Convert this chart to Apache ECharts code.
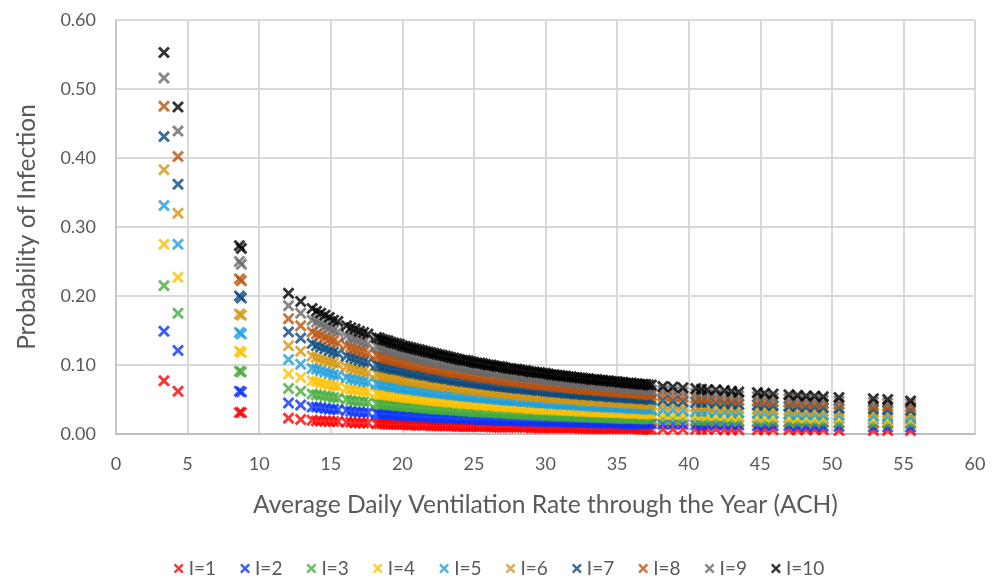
<!DOCTYPE html>
<html>
<head>
<meta charset="utf-8">
<script src="https://cdn.jsdelivr.net/npm/echarts@6/dist/echarts.min.js"></script>
<style>
  html, body { margin: 0; padding: 0; background: #ffffff; }
  #chart { width: 998px; height: 584px; }
</style>
</head>
<body>
<div id="chart"></div>
<script>
// Average daily ventilation rate (ACH) for each sample point.
// The last block holds the in-between samples of the dense 18-37 ACH range.
const ach = [
  3.35, 4.33, 8.62, 8.76,
  12.05, 12.9, 13.7, 14.0, 14.3, 14.6, 14.9, 15.2, 15.5, 16.1, 16.4, 16.7, 17.0, 17.3, 17.6,
  18.2, 18.6, 19.0, 19.4, 19.8, 20.2, 20.6, 21.0, 21.4, 21.8, 22.2, 22.6, 23.0, 23.4, 23.8,
  24.2, 24.6, 25.0, 25.4, 25.8, 26.2, 26.6, 27.0, 27.4, 27.8, 28.2, 28.6, 29.0, 29.4, 29.8,
  30.2, 30.6, 31.0, 31.4, 31.8, 32.2, 32.6, 33.0, 33.4, 33.8, 34.2, 34.6, 35.0, 35.4, 35.8,
  36.2, 36.6, 37.0, 37.4,
  38.2, 38.9, 39.6, 40.5, 40.9, 41.3, 41.9, 42.5, 43.0, 43.5, 44.8, 45.3, 45.9,
  47.0, 47.6, 48.2, 48.8, 49.4, 50.5, 52.9, 53.9, 55.5,
  18.4, 18.8, 19.2, 19.6, 20.0, 20.4, 20.8, 21.2, 21.6, 22.0, 22.4, 22.8, 23.2, 23.6, 24.0, 24.4,
  24.8, 25.2, 25.6, 26.0, 26.4, 26.8, 27.2, 27.6, 28.0, 28.4, 28.8, 29.2, 29.6, 30.0, 30.4, 30.8,
  31.2, 31.6, 32.0, 32.4, 32.8, 33.2, 33.6, 34.0, 34.4, 34.8, 35.2, 35.6, 36.0, 36.4, 36.8, 37.2
];

// Probability of infection, one list per number of infectors (I)
const probI1 = [
  0.077, 0.062, 0.031, 0.031,
  0.023, 0.021, 0.020, 0.019, 0.019, 0.019, 0.018, 0.018, 0.018, 0.017, 0.017, 0.016, 0.016, 0.016, 0.016,
  0.015, 0.015, 0.014, 0.014, 0.014, 0.014, 0.013, 0.013, 0.013, 0.013, 0.012, 0.012, 0.012, 0.012, 0.011,
  0.011, 0.011, 0.011, 0.011, 0.011, 0.010, 0.010, 0.010, 0.010, 0.010, 0.010, 0.010, 0.009, 0.009, 0.009,
  0.009, 0.009, 0.009, 0.009, 0.009, 0.009, 0.008, 0.008, 0.008, 0.008, 0.008, 0.008, 0.008, 0.008, 0.008,
  0.008, 0.007, 0.007, 0.007,
  0.007, 0.007, 0.007, 0.007, 0.007, 0.007, 0.007, 0.006, 0.006, 0.006, 0.006, 0.006, 0.006,
  0.006, 0.006, 0.006, 0.006, 0.006, 0.005, 0.005, 0.005, 0.005,
  0.015, 0.015, 0.014, 0.014, 0.014, 0.013, 0.013, 0.013, 0.013, 0.012, 0.012, 0.012, 0.012, 0.012, 0.011, 0.011,
  0.011, 0.011, 0.011, 0.011, 0.010, 0.010, 0.010, 0.010, 0.010, 0.010, 0.010, 0.009, 0.009, 0.009, 0.009, 0.009,
  0.009, 0.009, 0.009, 0.008, 0.008, 0.008, 0.008, 0.008, 0.008, 0.008, 0.008, 0.008, 0.008, 0.008, 0.007, 0.007
];
const probI2 = [
  0.149, 0.121, 0.062, 0.061,
  0.045, 0.042, 0.039, 0.039, 0.038, 0.037, 0.036, 0.036, 0.035, 0.034, 0.033, 0.032, 0.032, 0.031, 0.031,
  0.030, 0.029, 0.029, 0.028, 0.027, 0.027, 0.026, 0.026, 0.025, 0.025, 0.024, 0.024, 0.024, 0.023, 0.023,
  0.022, 0.022, 0.022, 0.021, 0.021, 0.021, 0.020, 0.020, 0.020, 0.020, 0.019, 0.019, 0.019, 0.019, 0.018,
  0.018, 0.018, 0.018, 0.017, 0.017, 0.017, 0.017, 0.017, 0.016, 0.016, 0.016, 0.016, 0.016, 0.015, 0.015,
  0.015, 0.015, 0.015, 0.015,
  0.014, 0.014, 0.014, 0.013, 0.013, 0.013, 0.013, 0.013, 0.013, 0.013, 0.012, 0.012, 0.012,
  0.012, 0.011, 0.011, 0.011, 0.011, 0.011, 0.010, 0.010, 0.010,
  0.029, 0.029, 0.028, 0.028, 0.027, 0.027, 0.026, 0.026, 0.025, 0.025, 0.024, 0.024, 0.023, 0.023, 0.023, 0.022,
  0.022, 0.022, 0.021, 0.021, 0.021, 0.020, 0.020, 0.020, 0.019, 0.019, 0.019, 0.019, 0.018, 0.018, 0.018, 0.018,
  0.017, 0.017, 0.017, 0.017, 0.017, 0.016, 0.016, 0.016, 0.016, 0.016, 0.016, 0.015, 0.015, 0.015, 0.015, 0.015
];
const probI3 = [
  0.215, 0.175, 0.091, 0.090,
  0.066, 0.062, 0.058, 0.057, 0.056, 0.055, 0.054, 0.053, 0.052, 0.050, 0.049, 0.048, 0.047, 0.047, 0.046,
  0.044, 0.043, 0.042, 0.042, 0.041, 0.040, 0.039, 0.039, 0.038, 0.037, 0.036, 0.036, 0.035, 0.035, 0.034,
  0.033, 0.033, 0.032, 0.032, 0.031, 0.031, 0.031, 0.030, 0.030, 0.029, 0.029, 0.028, 0.028, 0.028, 0.027,
  0.027, 0.027, 0.026, 0.026, 0.026, 0.025, 0.025, 0.025, 0.024, 0.024, 0.024, 0.024, 0.023, 0.023, 0.023,
  0.023, 0.022, 0.022, 0.022,
  0.021, 0.021, 0.021, 0.020, 0.020, 0.020, 0.019, 0.019, 0.019, 0.019, 0.018, 0.018, 0.018,
  0.017, 0.017, 0.017, 0.017, 0.017, 0.016, 0.015, 0.015, 0.015,
  0.044, 0.043, 0.042, 0.041, 0.040, 0.040, 0.039, 0.038, 0.037, 0.037, 0.036, 0.036, 0.035, 0.034, 0.034, 0.033,
  0.033, 0.032, 0.032, 0.031, 0.031, 0.030, 0.030, 0.029, 0.029, 0.029, 0.028, 0.028, 0.027, 0.027, 0.027, 0.026,
  0.026, 0.026, 0.025, 0.025, 0.025, 0.025, 0.024, 0.024, 0.024, 0.023, 0.023, 0.023, 0.023, 0.022, 0.022, 0.022
];
const probI4 = [
  0.275, 0.227, 0.120, 0.118,
  0.087, 0.082, 0.077, 0.076, 0.074, 0.073, 0.071, 0.070, 0.069, 0.066, 0.065, 0.064, 0.063, 0.062, 0.061,
  0.059, 0.057, 0.056, 0.055, 0.054, 0.053, 0.052, 0.051, 0.050, 0.049, 0.048, 0.047, 0.047, 0.046, 0.045,
  0.044, 0.044, 0.043, 0.042, 0.042, 0.041, 0.041, 0.040, 0.039, 0.039, 0.038, 0.038, 0.037, 0.037, 0.036,
  0.036, 0.035, 0.035, 0.034, 0.034, 0.034, 0.033, 0.033, 0.032, 0.032, 0.032, 0.031, 0.031, 0.031, 0.030,
  0.030, 0.030, 0.029, 0.029,
  0.028, 0.028, 0.027, 0.027, 0.027, 0.026, 0.026, 0.026, 0.025, 0.025, 0.024, 0.024, 0.024,
  0.023, 0.023, 0.023, 0.022, 0.022, 0.022, 0.021, 0.020, 0.020,
  0.058, 0.057, 0.056, 0.055, 0.054, 0.052, 0.052, 0.051, 0.050, 0.049, 0.048, 0.047, 0.046, 0.046, 0.045, 0.044,
  0.043, 0.043, 0.042, 0.041, 0.041, 0.040, 0.040, 0.039, 0.039, 0.038, 0.037, 0.037, 0.036, 0.036, 0.036, 0.035,
  0.035, 0.034, 0.034, 0.033, 0.033, 0.033, 0.032, 0.032, 0.031, 0.031, 0.031, 0.030, 0.030, 0.030, 0.029, 0.029
];
const probI5 = [
  0.331, 0.275, 0.147, 0.145,
  0.108, 0.101, 0.095, 0.094, 0.092, 0.090, 0.088, 0.086, 0.085, 0.082, 0.080, 0.079, 0.078, 0.076, 0.075,
  0.073, 0.071, 0.070, 0.068, 0.067, 0.066, 0.065, 0.063, 0.062, 0.061, 0.060, 0.059, 0.058, 0.057, 0.056,
  0.055, 0.054, 0.054, 0.053, 0.052, 0.051, 0.050, 0.050, 0.049, 0.048, 0.048, 0.047, 0.046, 0.046, 0.045,
  0.045, 0.044, 0.043, 0.043, 0.042, 0.042, 0.041, 0.041, 0.040, 0.040, 0.039, 0.039, 0.039, 0.038, 0.038,
  0.037, 0.037, 0.036, 0.036,
  0.035, 0.035, 0.034, 0.033, 0.033, 0.033, 0.032, 0.032, 0.031, 0.031, 0.030, 0.030, 0.030,
  0.029, 0.028, 0.028, 0.028, 0.027, 0.027, 0.026, 0.025, 0.024,
  0.072, 0.071, 0.069, 0.068, 0.066, 0.065, 0.064, 0.063, 0.062, 0.061, 0.060, 0.059, 0.058, 0.057, 0.056, 0.055,
  0.054, 0.053, 0.052, 0.052, 0.051, 0.050, 0.049, 0.049, 0.048, 0.047, 0.047, 0.046, 0.045, 0.045, 0.044, 0.044,
  0.043, 0.043, 0.042, 0.042, 0.041, 0.041, 0.040, 0.040, 0.039, 0.039, 0.038, 0.038, 0.037, 0.037, 0.037, 0.036
];
const probI6 = [
  0.383, 0.320, 0.174, 0.172,
  0.128, 0.120, 0.113, 0.111, 0.109, 0.107, 0.105, 0.103, 0.101, 0.097, 0.096, 0.094, 0.092, 0.091, 0.089,
  0.087, 0.085, 0.083, 0.082, 0.080, 0.078, 0.077, 0.076, 0.074, 0.073, 0.072, 0.070, 0.069, 0.068, 0.067,
  0.066, 0.065, 0.064, 0.063, 0.062, 0.061, 0.060, 0.059, 0.058, 0.058, 0.057, 0.056, 0.055, 0.055, 0.054,
  0.053, 0.052, 0.052, 0.051, 0.051, 0.050, 0.049, 0.049, 0.048, 0.048, 0.047, 0.047, 0.046, 0.046, 0.045,
  0.045, 0.044, 0.044, 0.043,
  0.042, 0.042, 0.041, 0.040, 0.040, 0.039, 0.039, 0.038, 0.038, 0.037, 0.036, 0.036, 0.035,
  0.034, 0.034, 0.034, 0.033, 0.033, 0.032, 0.031, 0.030, 0.029,
  0.086, 0.084, 0.082, 0.081, 0.079, 0.078, 0.076, 0.075, 0.074, 0.072, 0.071, 0.070, 0.069, 0.068, 0.066, 0.065,
  0.064, 0.063, 0.062, 0.061, 0.061, 0.060, 0.059, 0.058, 0.057, 0.056, 0.056, 0.055, 0.054, 0.054, 0.053, 0.052,
  0.052, 0.051, 0.050, 0.050, 0.049, 0.048, 0.048, 0.047, 0.047, 0.046, 0.046, 0.045, 0.045, 0.044, 0.044, 0.043
];
const probI7 = [
  0.431, 0.362, 0.200, 0.197,
  0.148, 0.139, 0.131, 0.128, 0.126, 0.124, 0.121, 0.119, 0.117, 0.113, 0.111, 0.109, 0.107, 0.105, 0.104,
  0.100, 0.098, 0.096, 0.094, 0.093, 0.091, 0.089, 0.088, 0.086, 0.085, 0.083, 0.082, 0.080, 0.079, 0.078,
  0.076, 0.075, 0.074, 0.073, 0.072, 0.071, 0.070, 0.069, 0.068, 0.067, 0.066, 0.065, 0.064, 0.063, 0.063,
  0.062, 0.061, 0.060, 0.059, 0.059, 0.058, 0.057, 0.057, 0.056, 0.055, 0.055, 0.054, 0.054, 0.053, 0.052,
  0.052, 0.051, 0.051, 0.050,
  0.049, 0.048, 0.047, 0.046, 0.046, 0.046, 0.045, 0.044, 0.044, 0.043, 0.042, 0.042, 0.041,
  0.040, 0.040, 0.039, 0.039, 0.038, 0.037, 0.036, 0.035, 0.034,
  0.099, 0.097, 0.095, 0.094, 0.092, 0.090, 0.088, 0.087, 0.085, 0.084, 0.082, 0.081, 0.080, 0.078, 0.077, 0.076,
  0.075, 0.074, 0.072, 0.071, 0.070, 0.069, 0.068, 0.067, 0.066, 0.066, 0.065, 0.064, 0.063, 0.062, 0.061, 0.061,
  0.060, 0.059, 0.058, 0.058, 0.057, 0.056, 0.056, 0.055, 0.054, 0.054, 0.053, 0.053, 0.052, 0.052, 0.051, 0.050
];
const probI8 = [
  0.475, 0.402, 0.225, 0.222,
  0.167, 0.157, 0.148, 0.145, 0.143, 0.140, 0.137, 0.135, 0.132, 0.128, 0.126, 0.123, 0.121, 0.119, 0.117,
  0.114, 0.112, 0.109, 0.107, 0.105, 0.103, 0.101, 0.099, 0.098, 0.096, 0.094, 0.093, 0.091, 0.090, 0.088,
  0.087, 0.086, 0.084, 0.083, 0.082, 0.081, 0.079, 0.078, 0.077, 0.076, 0.075, 0.074, 0.073, 0.072, 0.071,
  0.070, 0.069, 0.069, 0.068, 0.067, 0.066, 0.065, 0.064, 0.064, 0.063, 0.062, 0.062, 0.061, 0.060, 0.060,
  0.059, 0.058, 0.058, 0.057,
  0.056, 0.055, 0.054, 0.053, 0.052, 0.052, 0.051, 0.050, 0.050, 0.049, 0.048, 0.047, 0.047,
  0.046, 0.045, 0.045, 0.044, 0.044, 0.043, 0.041, 0.040, 0.039,
  0.113, 0.110, 0.108, 0.106, 0.104, 0.102, 0.100, 0.099, 0.097, 0.095, 0.094, 0.092, 0.090, 0.089, 0.088, 0.086,
  0.085, 0.084, 0.082, 0.081, 0.080, 0.079, 0.078, 0.077, 0.076, 0.075, 0.074, 0.073, 0.072, 0.071, 0.070, 0.069,
  0.068, 0.067, 0.066, 0.066, 0.065, 0.064, 0.063, 0.063, 0.062, 0.061, 0.061, 0.060, 0.059, 0.059, 0.058, 0.057
];
const probI9 = [
  0.516, 0.439, 0.250, 0.246,
  0.186, 0.175, 0.165, 0.162, 0.159, 0.156, 0.153, 0.150, 0.148, 0.142, 0.140, 0.138, 0.135, 0.133, 0.131,
  0.127, 0.125, 0.122, 0.120, 0.118, 0.115, 0.113, 0.111, 0.109, 0.107, 0.105, 0.104, 0.102, 0.100, 0.099,
  0.097, 0.096, 0.094, 0.093, 0.091, 0.090, 0.089, 0.088, 0.086, 0.085, 0.084, 0.083, 0.082, 0.081, 0.080,
  0.079, 0.078, 0.077, 0.076, 0.075, 0.074, 0.073, 0.072, 0.071, 0.071, 0.070, 0.069, 0.068, 0.068, 0.067,
  0.066, 0.065, 0.065, 0.064,
  0.063, 0.062, 0.061, 0.059, 0.059, 0.058, 0.057, 0.057, 0.056, 0.055, 0.054, 0.053, 0.052,
  0.051, 0.051, 0.050, 0.049, 0.049, 0.048, 0.046, 0.045, 0.044,
  0.126, 0.123, 0.121, 0.119, 0.116, 0.114, 0.112, 0.110, 0.108, 0.106, 0.105, 0.103, 0.101, 0.100, 0.098, 0.096,
  0.095, 0.094, 0.092, 0.091, 0.089, 0.088, 0.087, 0.086, 0.085, 0.083, 0.082, 0.081, 0.080, 0.079, 0.078, 0.077,
  0.076, 0.075, 0.074, 0.074, 0.073, 0.072, 0.071, 0.070, 0.069, 0.069, 0.068, 0.067, 0.066, 0.066, 0.065, 0.064
];
const probI10 = [
  0.553, 0.474, 0.273, 0.269,
  0.204, 0.192, 0.182, 0.178, 0.175, 0.172, 0.169, 0.165, 0.163, 0.157, 0.154, 0.152, 0.149, 0.147, 0.145,
  0.140, 0.137, 0.135, 0.132, 0.130, 0.127, 0.125, 0.123, 0.121, 0.119, 0.117, 0.115, 0.113, 0.111, 0.109,
  0.107, 0.106, 0.104, 0.103, 0.101, 0.100, 0.098, 0.097, 0.095, 0.094, 0.093, 0.092, 0.090, 0.089, 0.088,
  0.087, 0.086, 0.085, 0.084, 0.083, 0.082, 0.081, 0.080, 0.079, 0.078, 0.077, 0.076, 0.076, 0.075, 0.074,
  0.073, 0.072, 0.072, 0.071,
  0.069, 0.068, 0.067, 0.066, 0.065, 0.064, 0.064, 0.063, 0.062, 0.061, 0.060, 0.059, 0.058,
  0.057, 0.056, 0.055, 0.055, 0.054, 0.053, 0.051, 0.050, 0.048,
  0.139, 0.136, 0.133, 0.131, 0.128, 0.126, 0.124, 0.122, 0.120, 0.118, 0.116, 0.114, 0.112, 0.110, 0.108, 0.107,
  0.105, 0.103, 0.102, 0.100, 0.099, 0.098, 0.096, 0.095, 0.094, 0.092, 0.091, 0.090, 0.089, 0.088, 0.086, 0.085,
  0.084, 0.083, 0.082, 0.081, 0.080, 0.079, 0.079, 0.078, 0.077, 0.076, 0.075, 0.074, 0.074, 0.073, 0.072, 0.071
];

const seriesNames = ['I=1', 'I=2', 'I=3', 'I=4', 'I=5', 'I=6', 'I=7', 'I=8', 'I=9', 'I=10'];
const seriesValues = [probI1, probI2, probI3, probI4, probI5, probI6, probI7, probI8, probI9, probI10];
const seriesColors = ['#ff0000', '#0a33ff', '#45ad3c', '#ffc000', '#1f9fdc',
                      '#d4960f', '#0b4a80', '#bd530c', '#6a6a6a', '#000000'];

// Filled "x" cross used both as the point marker and the legend icon
const crossMark = 'path://M0,1.7 L1.7,0 L5,3.3 L8.3,0 L10,1.7 L6.7,5 L10,8.3 L8.3,10 L5,6.7 L1.7,10 L0,8.3 L3.3,5 Z';

const textGray = '#595959';
const fontFamily = 'Lato, "Open Sans", sans-serif';

const chart = echarts.init(document.getElementById('chart'), null, { renderer: 'canvas' });

chart.setOption({
  animation: false,
  backgroundColor: '#ffffff',
  textStyle: { fontFamily: fontFamily },
  grid: { left: 116, right: 23, top: 20, bottom: 150, containLabel: false },
  legend: {
    bottom: 1,
    left: 'center',
    icon: crossMark,
    itemWidth: 10,
    itemHeight: 10,
    itemGap: 24,
    data: seriesNames,
    textStyle: { color: textGray, fontSize: 19, fontFamily: fontFamily }
  },
  xAxis: {
    type: 'value',
    min: 0,
    max: 60,
    interval: 5,
    name: 'Average Daily Ventilation Rate through the Year (ACH)',
    nameLocation: 'middle',
    nameGap: 59,
    nameTextStyle: { color: textGray, fontSize: 24.6, fontFamily: fontFamily },
    axisLine: { show: true, lineStyle: { color: '#bfbfbf', width: 2 } },
    axisTick: { show: false },
    axisLabel: { color: textGray, fontSize: 18, margin: 21, fontFamily: fontFamily },
    splitLine: { show: true, lineStyle: { color: '#d9d9d9', width: 2 } }
  },
  yAxis: {
    type: 'value',
    min: 0,
    max: 0.6,
    interval: 0.1,
    name: 'Probability of Infection',
    nameLocation: 'middle',
    nameGap: 76,
    nameTextStyle: { color: textGray, fontSize: 24.5, fontFamily: fontFamily },
    axisLine: { show: true, lineStyle: { color: '#bfbfbf', width: 1.5 } },
    axisTick: { show: false },
    axisLabel: {
      color: textGray, fontSize: 18, margin: 20, fontFamily: fontFamily,
      formatter: v => v.toFixed(2)
    },
    splitLine: { show: true, lineStyle: { color: '#d9d9d9', width: 2 } }
  },
  series: seriesNames.map((name, s) => ({
    name: name,
    type: 'scatter',
    symbol: crossMark,
    symbolSize: 12,
    itemStyle: { color: seriesColors[s] },
    emphasis: { disabled: true },
    data: ach.map((x, i) => [x, seriesValues[s][i]])
  }))
});
</script>
</body>
</html>
